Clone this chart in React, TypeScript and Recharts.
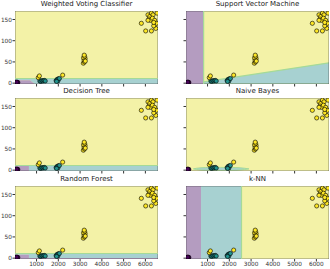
import React from 'react';
import { ComposedChart, XAxis, YAxis, Scatter, Area, ReferenceArea, ReferenceLine } from 'recharts';

const X_DOMAIN: [number, number] = [10, 6580];
const Y_DOMAIN: [number, number] = [-2, 170];
const xTicks = [1000, 2000, 3000, 4000, 5000, 6000];
const yTicks = [0, 50, 100, 150];

const titles = ['Weighted Voting Classifier', 'Support Vector Machine', 'Decision Tree', 'Naive Bayes', 'Random Forest', 'k-NN'];

const class0 = [
  { x: 40, y: 0.5 }, { x: 70, y: 1.5 }, { x: 110, y: 0.8 }, { x: 140, y: 1.8 }, { x: 90, y: 2.5 },
];
const class1 = [
  { x: 1150, y: 5 }, { x: 1200, y: 4 }, { x: 1250, y: 6 }, { x: 1300, y: 5 }, { x: 1350, y: 6.5 }, { x: 1400, y: 5 },
  { x: 1900, y: 6 }, { x: 1950, y: 9 }, { x: 2000, y: 10 }, { x: 1980, y: 5 }, { x: 2050, y: 11 }, { x: 1920, y: 4 },
];
const class2 = [
  { x: 1080, y: 13 }, { x: 1130, y: 17 }, { x: 2200, y: 19 },
  { x: 3150, y: 47 }, { x: 3200, y: 50 }, { x: 3180, y: 55 }, { x: 3230, y: 58 }, { x: 3160, y: 60 },
  { x: 3210, y: 63 }, { x: 3190, y: 66 }, { x: 3240, y: 52 },
  { x: 5815, y: 141 }, { x: 6014, y: 123 }, { x: 6278, y: 123 }, { x: 6477, y: 129 }, { x: 6120, y: 161 },
  { x: 6199, y: 157 }, { x: 6278, y: 165 }, { x: 6352, y: 161 }, { x: 6167, y: 151 }, { x: 6231, y: 148 },
  { x: 6324, y: 153 }, { x: 6430, y: 148 }, { x: 6509, y: 141 }, { x: 6537, y: 165 }, { x: 6384, y: 135 },
  { x: 6120, y: 148 }, { x: 6384, y: 143 },
];

// region boundaries: [low, high] bands per x
const wvRegions = [
  { x: 10, purple: [-2, 7], teal: [7, 11] },
  { x: 700, purple: [-2, 7], teal: [7, 11] },
  { x: 920, purple: [-2, -2], teal: [-2, 11] },
  { x: 6580, purple: [-2, -2], teal: [-2, 11] },
];
const svmRegions = [
  { x: 820, teal: [-2, 3] }, { x: 6580, teal: [-2, 48] },
];
const nbRegions = [
  { x: 350, teal: [3, 3] }, { x: 500, teal: [1.5, 4.5] }, { x: 900, teal: [0, 6] }, { x: 1600, teal: [-0.5, 6.5] },
  { x: 2300, teal: [0, 6] }, { x: 2700, teal: [1.5, 4.5] }, { x: 2900, teal: [3, 3] },
];

const YELLOW = '#f3f2a7';
const TEAL = '#a7d1d1';
const PURPLE = '#b49cc0';
const GREEN = '#a5da98';
const C0 = '#440154';
const C1 = '#21918c';
const C2 = '#fde725';
const FONT = 'DejaVu Sans';

const dot = (color: string) => (p: any) => (
  <circle cx={p.cx} cy={p.cy} r={2.1} fill={color} stroke="#000" strokeWidth={0.6} />
);

function rect(key: string, x1: number, x2: number, y1: number, y2: number, fill: string) {
  return <ReferenceArea key={key} x1={x1} x2={x2} y1={y1} y2={y2} fill={fill} fillOpacity={1} stroke="none" ifOverflow="hidden" />;
}

function regionsFor(i: number) {
  const L = X_DOMAIN[0], R = X_DOMAIN[1], B = Y_DOMAIN[0], T = Y_DOMAIN[1];
  const bg = rect('bg', L, R, B, T, YELLOW);
  switch (i) {
    case 0:
      return [
        bg,
        <ReferenceLine key="g" y={11} stroke={GREEN} strokeWidth={1.2} ifOverflow="hidden" />,
        <Area key="t" dataKey="teal" type="linear" fill={TEAL} fillOpacity={1} stroke="none" isAnimationActive={false} />,
        <Area key="p" dataKey="purple" type="linear" fill={PURPLE} fillOpacity={1} stroke="none" isAnimationActive={false} />,
      ];
    case 1:
      return [
        bg,
        <Area key="t" dataKey="teal" type="linear" fill={TEAL} fillOpacity={1} stroke={GREEN} strokeWidth={1.2} isAnimationActive={false} />,
        rect('p', L, 820, B, T, PURPLE),
        <ReferenceLine key="g" x={820} stroke={GREEN} strokeWidth={1.2} ifOverflow="hidden" />,
      ];
    case 2:
      return [
        bg,
        <ReferenceLine key="g" y={11} stroke={GREEN} strokeWidth={1.2} ifOverflow="hidden" />,
        rect('t', 650, R, B, 11, TEAL),
        rect('t2', L, 650, 10, 11, TEAL),
        rect('p', L, 650, B, 10, PURPLE),
      ];
    case 3:
      return [
        bg,
        <Area key="t" dataKey="teal" type="monotone" fill={TEAL} fillOpacity={1} stroke={GREEN} strokeWidth={1} isAnimationActive={false} />,
        rect('p', L, 100, B, 1.5, PURPLE),
      ];
    case 4:
      return [
        bg,
        <ReferenceLine key="g" y={11} stroke={GREEN} strokeWidth={1.2} ifOverflow="hidden" />,
        rect('t', 650, R, 0.5, 11, TEAL),
        rect('s', 650, R, B, 0.5, PURPLE),
        rect('t2', L, 650, 8, 11, TEAL),
        rect('p', L, 650, B, 8, PURPLE),
      ];
    default:
      return [
        bg,
        rect('p', L, 700, B, T, PURPLE),
        rect('t', 700, 2560, B, T, TEAL),
        <ReferenceLine key="g" x={2560} stroke={GREEN} strokeWidth={1.2} ifOverflow="hidden" />,
      ];
  }
}

const areaData = [wvRegions, svmRegions, [], nbRegions, [], []];

function Panel({ i }: { i: number }) {
  const col = i % 2;
  const row = Math.floor(i / 2);
  const left = col === 0 ? 0 : 165;
  const top = [0, 87, 175][row];
  const height = row === 2 ? 94 : 100;
  const xAxisH = row === 2 ? 10 : 16;
  const yAxisW = col === 0 ? 15 : 21;
  const marginRight = col === 0 ? 7 : 1;
  const tickStyle = { fontSize: 5.8, fill: '#333', fontFamily: FONT };
  return (
    <div style={{ position: 'absolute', left, top, width: 165, height }}>
      <ComposedChart width={165} height={height} data={areaData[i]} margin={{ top: 11, right: marginRight, bottom: 0, left: 0 }}>
        <XAxis dataKey="x" type="number" domain={X_DOMAIN} allowDataOverflow ticks={xTicks} height={xAxisH}
          tick={tickStyle} tickSize={2.5} tickMargin={0.5} axisLine={false} stroke="#333"
          tickFormatter={(v: number) => (row === 2 ? String(v) : '')} interval={0} />
        <YAxis type="number" domain={Y_DOMAIN} allowDataOverflow ticks={yTicks} width={yAxisW}
          tick={tickStyle} tickSize={2.5} tickMargin={0.5} axisLine={false} stroke="#333"
          tickFormatter={(v: number) => (col === 0 ? String(v) : '')} interval={0} />
        {regionsFor(i)}
        <ReferenceArea x1={X_DOMAIN[0]} x2={X_DOMAIN[1]} y1={Y_DOMAIN[0]} y2={Y_DOMAIN[1]} fill="none" stroke="#444" strokeWidth={0.6} ifOverflow="hidden" />
        <Scatter data={class0} dataKey="y" shape={dot(C0)} isAnimationActive={false} />
        <Scatter data={class1} dataKey="y" shape={dot(C1)} isAnimationActive={false} />
        <Scatter data={class2} dataKey="y" shape={dot(C2)} isAnimationActive={false} />
      </ComposedChart>
      <div style={{ position: 'absolute', top: 0, left: yAxisW, width: 165 - yAxisW - marginRight, textAlign: 'center', fontFamily: FONT, fontSize: 7, color: '#222', lineHeight: '9px', whiteSpace: 'nowrap' }}>
        {titles[i]}
      </div>
    </div>
  );
}

export default function App() {
  return (
    <div style={{ position: 'absolute', left: 0, top: 0, width: 330, height: 269, background: '#fff', overflow: 'hidden' }}>
      {[0, 1, 2, 3, 4, 5].map((i) => <Panel key={i} i={i} />)}
    </div>
  );
}
